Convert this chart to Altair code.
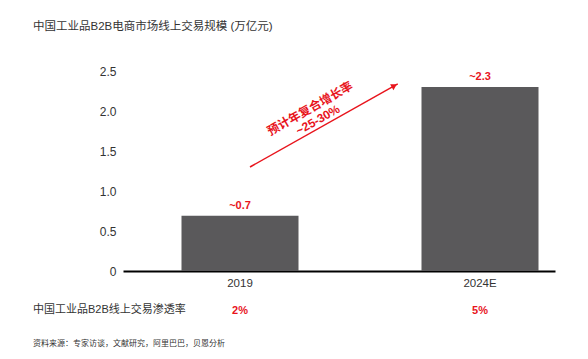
import altair as alt
import pandas as pd

# ---- data ----
years = ["2019", "2024E"]
values = [0.69, 2.30]
value_labels = ["~0.7", "~2.3"]
penetration = ["2%", "5%"]

title_text = "中国工业品B2B电商市场线上交易规模 (万亿元)"
row_label = "中国工业品B2B线上交易渗透率"
source_text = "资料来源：专家访谈，文献研究，阿里巴巴，贝恩分析"

# arrow (x as fraction of plot width, y in data units)
arrow_x = [0.294, 0.636]
arrow_y = [1.30, 2.34]
arrow_head_x = [0.628]
arrow_head_y = [2.315]
cagr_lines = ["预计年复合增长率", "~25-30%"]
cagr_x = [0.433, 0.451]
cagr_y = [2.03, 1.89]
y_ticks = [0, 0.5, 1.0, 1.5, 2.0, 2.5]

RED = "#e8141c"
GREY = "#333333"
BAR = "#5a595b"
FONT = "Liberation Sans, Noto Sans CJK SC, sans-serif"

df = pd.DataFrame({"year": years, "value": values, "label": value_labels, "pct": penetration})

xscale = alt.Scale(domain=years, paddingInner=0.5125, paddingOuter=0.15625, align=0.78)
yscale = alt.Scale(domain=[0, 2.5], nice=False)
yaxis = alt.Axis(values=y_ticks, domain=False, ticks=False, grid=False,
                 labelOverlap=False, labelColor=GREY, labelFontSize=12, labelPadding=7,
                 labelFont=FONT, title=None,
                 labelExpr="datum.value == 0 ? '0' : format(datum.value, '.1f')")

base = alt.Chart(df)

bars = base.mark_bar(color=BAR).encode(
    x=alt.X("year:N", scale=xscale, sort=years, title=None,
            axis=alt.Axis(labelAngle=0, domainColor="black", domainWidth=2, ticks=False,
                          labelColor=GREY, labelFontSize=11.5, labelPadding=6, labelFont=FONT)),
    y=alt.Y("value:Q", scale=yscale, title=None, axis=yaxis),
)

labels = base.mark_text(color=RED, fontWeight="bold", fontSize=11, dy=-10, font=FONT).encode(
    x=alt.X("year:N", sort=years),
    y=alt.Y("value:Q", scale=yscale, title=None, axis=yaxis),
    text="label:N",
)

pct = base.mark_text(color=RED, fontWeight="bold", fontSize=11, font=FONT).encode(
    x=alt.X("year:N", sort=years),
    y=alt.value(240),
    text="pct:N",
)

row_df = pd.DataFrame({"t": [row_label]})
row = alt.Chart(row_df).mark_text(color=GREY, fontSize=11, align="left", font=FONT).encode(
    x=alt.value(-90), y=alt.value(239), text="t:N")

src_df = pd.DataFrame({"t": [source_text]})
src = alt.Chart(src_df).mark_text(color=GREY, fontSize=8, align="left", font=FONT).encode(
    x=alt.value(-90), y=alt.value(273), text="t:N")

inner = alt.layer(bars, labels, pct, row, src)

fx = alt.Scale(domain=[0, 1], nice=False)
arrow_df = pd.DataFrame({"x0": [arrow_x[0]], "x1": [arrow_x[1]], "y0": [arrow_y[0]], "y1": [arrow_y[1]]})
rule = alt.Chart(arrow_df).mark_rule(color=RED, strokeWidth=1.5).encode(
    x=alt.X("x0:Q", scale=fx, axis=None), x2="x1:Q",
    y=alt.Y("y0:Q", scale=yscale, title=None, axis=yaxis), y2="y1:Q")

head_df = pd.DataFrame({"x": arrow_head_x, "y": arrow_head_y})
head = alt.Chart(head_df).mark_point(shape="triangle-up", filled=True, color=RED, opacity=1,
                                     size=45, angle=60.5).encode(
    x=alt.X("x:Q", scale=fx, axis=None), y=alt.Y("y:Q", scale=yscale, title=None, axis=yaxis))

cagr_df = pd.DataFrame({"x": cagr_x, "y": cagr_y, "t": cagr_lines})
cagr = alt.Chart(cagr_df).mark_text(color=RED, fontWeight="bold", fontSize=12, angle=330.5, font=FONT).encode(
    x=alt.X("x:Q", scale=fx, axis=None), y=alt.Y("y:Q", scale=yscale, title=None, axis=yaxis),
    text="t:N")

arrow = alt.layer(rule, head, cagr)

chart = alt.layer(inner, arrow).resolve_scale(x="independent").properties(
    width=432, height=200,
    padding={"left": 115, "top": 63, "right": 25, "bottom": 80},
    autosize=alt.AutoSizeParams(type="none"),
    background="white",
    title=alt.TitleParams(title_text, anchor="start", frame="group", dx=-90, offset=33,
                          fontSize=11.5, fontWeight="normal", color=GREY, font=FONT),
).configure_view(stroke=None)

chart.save("out.html", embed_options={"renderer": "svg", "actions": False})
